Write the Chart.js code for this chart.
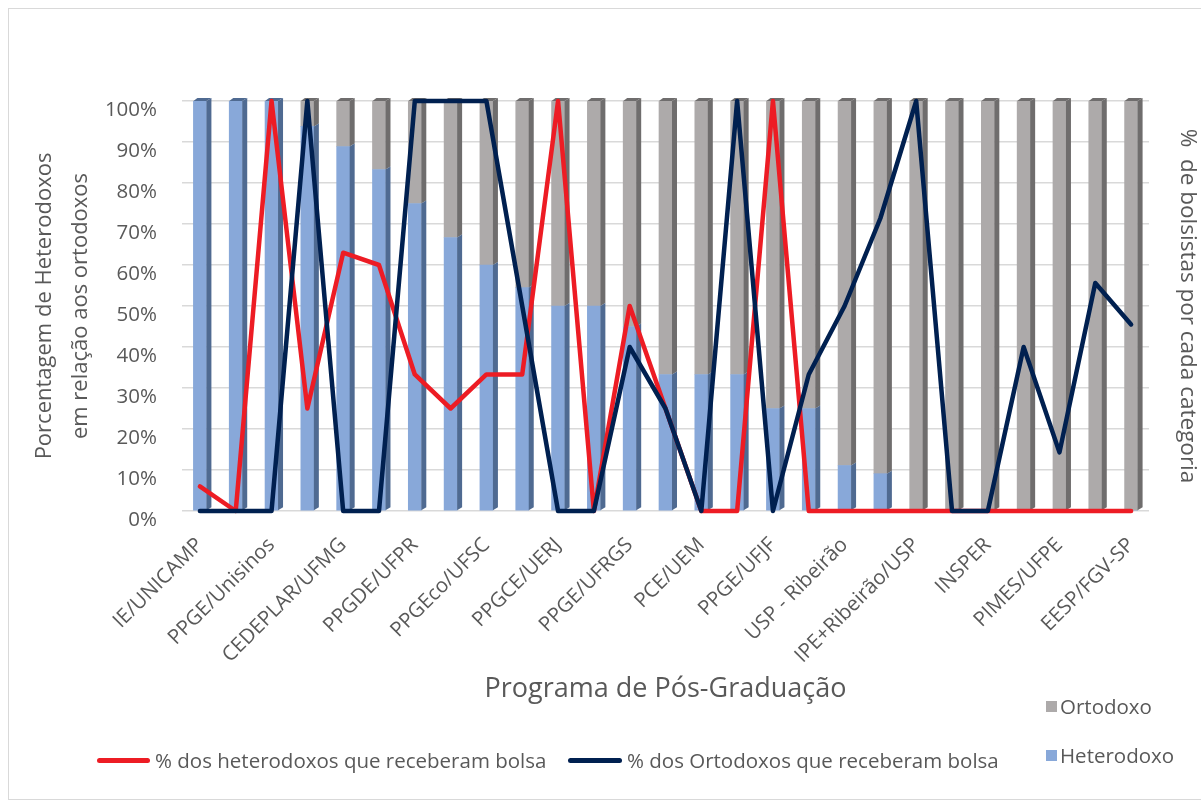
<!DOCTYPE html>
<html>
<head>
<meta charset="utf-8">
<script src="https://cdn.jsdelivr.net/npm/chart.js@4/dist/chart.umd.min.js"></script>
<style>
  html, body { margin: 0; padding: 0; background: #fff; }
  #wrap { position: relative; width: 1201px; height: 802px; overflow: hidden; font-family: 'Open Sans', sans-serif; color: #595959; }
  #frame { position: absolute; left: 8px; top: 8px; width: 1200px; height: 790px; border: 1px solid #d9d9d9; border-right: none; }
  canvas { position: absolute; left: 0; top: 0; }
  .lg { position: absolute; font-size: 20.5px; line-height: 26px; white-space: nowrap; }
  .ln { position: absolute; height: 5px; border-radius: 3px; }
  .sq { position: absolute; width: 11px; height: 11px; }
</style>
</head>
<body>
<div id="wrap">
  <div id="frame"></div>
  <canvas id="grafico" width="1201" height="802"></canvas>

  <div class="ln" style="left:97px; top:758px; width:53px; background:#ed1c24;"></div>
  <div class="lg" style="left:155px; top:747px;">% dos heterodoxos que receberam bolsa</div>
  <div class="ln" style="left:568px; top:758px; width:54px; background:#002050;"></div>
  <div class="lg" style="left:627px; top:747px;">% dos Ortodoxos que receberam bolsa</div>

  <div class="sq" style="left:1046px; top:701px; background:#adaaaa;"></div>
  <div class="lg" style="left:1060px; top:693px;">Ortodoxo</div>
  <div class="sq" style="left:1046px; top:750px; background:#88a8d9;"></div>
  <div class="lg" style="left:1060px; top:742px;">Heterodoxo</div>
</div>

<script>
// Programas (so os rotulos visiveis no grafico original; os outros ficam em branco)
const programas = ['IE/UNICAMP', '', 'PPGE/Unisinos', '', 'CEDEPLAR/UFMG', '', 'PPGDE/UFPR', '',
  'PPGEco/UFSC', '', 'PPGCE/UERJ', '', 'PPGE/UFRGS', '', 'PCE/UEM', '', 'PPGE/UFJF', '',
  'USP - Ribeirão', '', 'IPE+Ribeirão/USP', '', 'INSPER', '', 'PIMES/UFPE', '', 'EESP/FGV-SP'];

// barras empilhadas (%)
const heterodoxo = [100, 100, 100, 93.8, 88.9, 83.3, 75, 66.7, 60, 54.5, 50, 50, 45, 33.3, 33.3, 33.3,
  25, 25, 11.1, 9.1, 0, 0, 0, 0, 0, 0, 0];
const ortodoxo = [0, 0, 0, 6.2, 11.1, 16.7, 25, 33.3, 40, 45.5, 50, 50, 55, 66.7, 66.7, 66.7,
  75, 75, 88.9, 90.9, 100, 100, 100, 100, 100, 100, 100];

// linhas: % de bolsistas em cada categoria
const bolsaHetero = [6, 0, 100, 25, 63, 60, 33.3, 25, 33.3, 33.3, 100, 0, 50, 25, 0, 0,
  100, 0, 0, 0, 0, 0, 0, 0, 0, 0, 0];
const bolsaOrto = [0, 0, 0, 100, 0, 0, 100, 100, 100, 50, 0, 0, 40, 25, 0, 100,
  0, 33.3, 50, 71.4, 100, 0, 0, 40, 14.3, 55.6, 45.5];

const ticksY = [0, 10, 20, 30, 40, 50, 60, 70, 80, 90, 100];

const cinzaTexto = '#595959';
const fonte = "'Open Sans', sans-serif";

// lateral escura das barras (efeito 3D do Excel)
const barra3d = {
  id: 'barra3d',
  afterDatasetDraw(chart, args) {
    const meta = args.meta;
    if (meta.type !== 'bar') return;
    const ds = chart.data.datasets[args.index];
    const yScale = chart.scales[meta.yAxisID];
    const ctx = chart.ctx;
    ctx.save();
    ctx.fillStyle = ds.sideColor;
    meta.data.forEach((el, i) => {
      const p = el.getProps(['x', 'y', 'base', 'width'], true);
      if (Math.abs(p.base - p.y) < 0.5) return;
      const xr = p.x + p.width / 2, xl = p.x - p.width / 2;
      const top = Math.min(p.y, p.base), bot = Math.max(p.y, p.base);
      ctx.beginPath();
      ctx.moveTo(xr, bot);
      ctx.lineTo(xr, top);
      ctx.lineTo(xr + 5, top - 3);
      ctx.lineTo(xr + 5, bot - 3);
      ctx.closePath();
      ctx.fill();
      // tampa so no topo da pilha
      const total = heterodoxo[i] + ortodoxo[i];
      if (Math.abs(top - yScale.getPixelForValue(total)) < 1) {
        ctx.beginPath();
        ctx.moveTo(xl, top);
        ctx.lineTo(xl + 4, top - 3);
        ctx.lineTo(xr + 5, top - 3);
        ctx.lineTo(xr, top);
        ctx.closePath();
        ctx.fill();
      }
    });
    ctx.restore();
  }
};

const ctx = document.getElementById('grafico').getContext('2d');

new Chart(ctx, {
  data: {
    labels: programas,
    datasets: [
      {
        type: 'line',
        label: '% dos heterodoxos que receberam bolsa',
        data: bolsaHetero,
        yAxisID: 'y1',
        borderColor: '#ed1c24',
        borderWidth: 4.5,
        pointRadius: 0,
        tension: 0,
        borderJoinStyle: 'round',
        borderCapStyle: 'round',
        clip: false,
        order: 0
      },
      {
        type: 'line',
        label: '% dos Ortodoxos que receberam bolsa',
        data: bolsaOrto,
        yAxisID: 'y1',
        borderColor: '#002050',
        borderWidth: 4.5,
        pointRadius: 0,
        tension: 0,
        borderJoinStyle: 'round',
        borderCapStyle: 'round',
        clip: false,
        order: -1
      },
      {
        type: 'bar',
        label: 'Heterodoxo',
        data: heterodoxo,
        yAxisID: 'y',
        stack: 'barras',
        backgroundColor: '#88a8d9',
        sideColor: '#4f6a91',
        barThickness: 13,
        order: 1
      },
      {
        type: 'bar',
        label: 'Ortodoxo',
        data: ortodoxo,
        yAxisID: 'y',
        stack: 'barras',
        backgroundColor: '#adaaaa',
        sideColor: '#6f6d6d',
        barThickness: 13,
        order: 2
      }
    ]
  },
  options: {
    responsive: false,
    animation: false,
    layout: { padding: { top: 101, bottom: 92, left: 23, right: 0 } },
    plugins: {
      legend: { display: false },
      tooltip: { enabled: false }
    },
    scales: {
      x: {
        stacked: true,
        grid: { display: false },
        border: { display: false },
        ticks: {
          autoSkip: false,
          maxRotation: 45,
          minRotation: 45,
          padding: 14,
          color: cinzaTexto,
          font: { family: fonte, size: 20.5 }
        },
        title: {
          display: true,
          text: 'Programa de Pós-Graduação',
          color: cinzaTexto,
          font: { family: fonte, size: 27 },
          padding: { top: 0, bottom: 4 }
        },
        afterFit(scale) { scale.height = 199; }
      },
      y: {
        stacked: true,
        position: 'left',
        min: 0,
        max: 100,
        grid: { color: '#d9d9d9', lineWidth: 1.5, drawTicks: false },
        border: { display: false },
        afterBuildTicks(scale) { scale.ticks = ticksY.map(v => ({ value: v })); },
        ticks: {
          padding: 25,
          labelOffset: 9,
          color: cinzaTexto,
          font: { family: fonte, size: 20.5 },
          callback: v => v + '%'
        },
        title: {
          display: true,
          text: ['Porcentagem de Heterodoxos', 'em relação aos ortodoxos'],
          color: cinzaTexto,
          font: { family: fonte, size: 22, lineHeight: 1.64 },
          padding: { top: 4, bottom: 0 }
        },
        afterFit(scale) { scale.width = 159; }
      },
      y1: {
        position: 'right',
        min: 0,
        max: 100,
        grid: { display: false },
        border: { display: false },
        ticks: { display: false },
        title: {
          display: true,
          text: '%  de bolsistas por cada categoria',
          color: cinzaTexto,
          font: { family: fonte, size: 22.5, lineHeight: 1.2 },
          padding: { top: 0, bottom: 0 }
        },
        afterFit(scale) { scale.width = 52; }
      }
    }
  },
  plugins: [barra3d]
});
</script>
</body>
</html>
